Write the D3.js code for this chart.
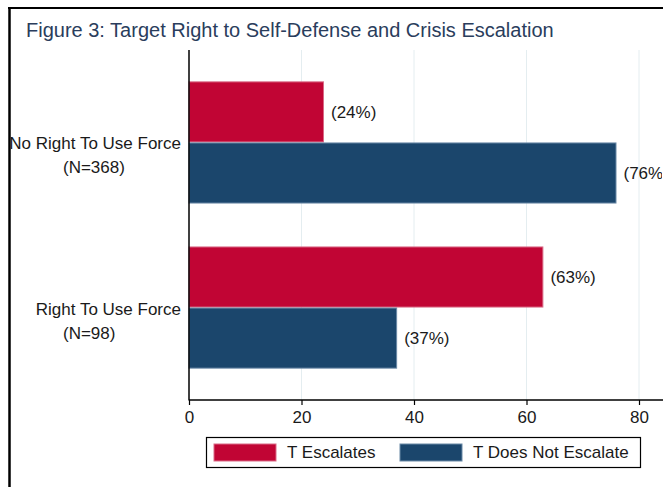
<!DOCTYPE html>
<html>
<head>
<meta charset="utf-8">
<script src="https://cdn.jsdelivr.net/npm/d3@7"></script>
<style>
  html, body { margin: 0; padding: 0; background: #fff; }
  svg { display: block; }
  text { font-family: "Liberation Sans", Arial, sans-serif; }
</style>
</head>
<body>
<svg id="chart" width="663" height="487"></svg>
<script>
// ---- data ----
const title = "Figure 3: Target Right to Self-Defense and Crisis Escalation";
const categories = ["No Right To Use Force", "Right To Use Force"];
const categoryNotes = ["(N=368)", "(N=98)"];
const seriesNames = ["T Escalates", "T Does Not Escalate"];
const escalates = [24, 63];
const doesNotEscalate = [76, 37];
const xTicks = [0, 20, 40, 60, 80];
const seriesColors = ["#c10534", "#1b466c"];
const seriesStrokes = ["#d96a86", "#6a89a6"];

// ---- layout ----
const W = 663, H = 487;
const plot = { left: 189, right: 663, top: 50, bottom: 400 };
const svg = d3.select("#chart");

svg.append("defs").append("clipPath").attr("id", "clip")
  .append("rect").attr("x", 0).attr("y", 0).attr("width", 662).attr("height", H);

const x = d3.scaleLinear().domain([0, 80]).range([plot.left, 639]);
const y0 = d3.scaleBand().domain(categories).range([plot.top, plot.bottom])
  .paddingInner(0.26).paddingOuter(0.19);
const y1 = d3.scaleBand().domain(seriesNames).range([0, y0.bandwidth()]);

const series = [escalates, doesNotEscalate];

// frame
svg.append("line").attr("x1", 8).attr("x2", W).attr("y1", 8).attr("y2", 8)
  .attr("stroke", "#000").attr("stroke-width", 2);
svg.append("line").attr("x1", 9.5).attr("x2", 9.5).attr("y1", 7).attr("y2", H)
  .attr("stroke", "#000").attr("stroke-width", 2.5);

// title
svg.append("text").attr("x", 26).attr("y", 37)
  .attr("font-size", 20).attr("fill", "#2a3d5c").text(title);

// gridlines
svg.append("g").selectAll("line").data(xTicks.filter(d => d > 0)).join("line")
  .attr("x1", d => x(d)).attr("x2", d => x(d))
  .attr("y1", plot.top).attr("y2", plot.bottom)
  .attr("stroke", "#e4edf0").attr("stroke-width", 1);

// bars
const g = svg.append("g");
categories.forEach((c, ci) => {
  seriesNames.forEach((s, si) => {
    const v = series[si][ci];
    const by = y0(c) + y1(s);
    g.append("rect")
      .attr("x", x(0))
      .attr("y", by + 0.5)
      .attr("width", x(v) - x(0) - 0.5)
      .attr("height", y1.bandwidth() - 1)
      .attr("fill", seriesColors[si])
      .attr("stroke", seriesStrokes[si])
      .attr("stroke-width", 1);
    g.append("text")
      .attr("clip-path", "url(#clip)")
      .attr("x", x(v) + 7)
      .attr("y", by + y1.bandwidth() / 2 + 6)
      .attr("font-size", 17).attr("fill", "#1a1a1a")
      .text("(" + v + "%)");
  });
});

// y axis line
svg.append("line").attr("x1", plot.left).attr("x2", plot.left)
  .attr("y1", plot.top).attr("y2", plot.bottom + 0.5)
  .attr("stroke", "#000").attr("stroke-width", 1.5);

// category labels
categories.forEach((c, ci) => {
  const cy = y0(c) + y0.bandwidth() / 2;
  svg.append("text").attr("x", 181).attr("y", cy + 7)
    .attr("text-anchor", "end").attr("font-size", 17).attr("fill", "#1a1a1a").text(c);
  svg.append("text").attr("x", 63).attr("y", cy + 31)
    .attr("font-size", 17).attr("fill", "#1a1a1a").text(categoryNotes[ci]);
});

// x axis
const xAxis = d3.axisBottom(x).tickValues(xTicks).tickSize(5).tickFormat(d3.format("d"));
const ax = svg.append("g").attr("transform", `translate(0,${plot.bottom})`).call(xAxis);
ax.select(".domain").remove();
ax.selectAll(".tick line").attr("stroke", "#000").attr("stroke-width", 1.2);
ax.selectAll(".tick text").attr("font-size", 17).attr("fill", "#1a1a1a")
  .attr("font-family", "Liberation Sans, Arial, sans-serif").attr("dy", "0.95em").attr("y", 7);
svg.append("line").attr("x1", plot.left).attr("x2", W)
  .attr("y1", plot.bottom).attr("y2", plot.bottom)
  .attr("stroke", "#000").attr("stroke-width", 1.5);

// legend
const lg = svg.append("g");
lg.append("rect").attr("x", 206.5).attr("y", 437.5).attr("width", 434).attr("height", 30)
  .attr("fill", "#fff").attr("stroke", "#000").attr("stroke-width", 1.2);
const legendX = [214, 400];
seriesNames.forEach((s, si) => {
  lg.append("rect").attr("x", legendX[si]).attr("y", 444).attr("width", 62).attr("height", 17)
    .attr("fill", seriesColors[si]).attr("stroke", seriesStrokes[si]).attr("stroke-width", 1);
  lg.append("text").attr("x", legendX[si] + 73).attr("y", 458)
    .attr("font-size", 17).attr("fill", "#1a1a1a").text(s);
});
</script>
</body>
</html>
